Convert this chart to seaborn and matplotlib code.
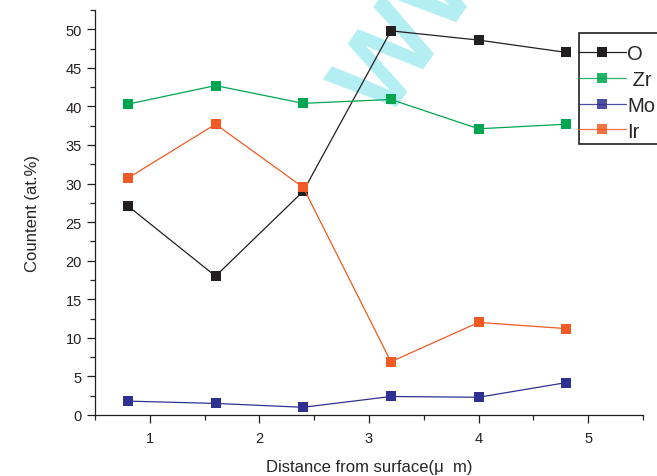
import numpy as np
import pandas as pd
import matplotlib
matplotlib.use('Agg')
import matplotlib.pyplot as plt
import seaborn as sns
from matplotlib.patches import Rectangle
from matplotlib.ticker import MultipleLocator

distance = [0.8, 1.6, 2.4, 3.2, 4.0, 4.8]
o_vals = [27.1, 18.0, 29.0, 49.8, 48.6, 47.0]
zr_vals = [40.3, 42.7, 40.4, 40.9, 37.1, 37.7]
mo_vals = [1.8, 1.5, 1.0, 2.4, 2.3, 4.2]
ir_vals = [30.7, 37.7, 29.5, 6.9, 12.0, 11.2]
elements = ['O', 'Zr', 'Mo', 'Ir']
legend_labels = ['O', ' Zr', 'Mo', 'Ir']
colors = ['#231f20', '#00a650', '#2e3192', '#f15a24']

df = pd.DataFrame({
    'x': distance * 4,
    'y': o_vals + zr_vals + mo_vals + ir_vals,
    'el': [e for e in elements for _ in distance],
})

sns.set_style('ticks')
plt.rcParams['font.family'] = ['Liberation Sans', 'DejaVu Sans']

W, H = 657, 477
fig = plt.figure(figsize=(W / 100, H / 100), dpi=100)
ax = fig.add_axes([95 / W, 1 - 416 / H, (643 - 95) / W, (416 - 11) / H])

# watermark, under the data lines
ax.text(386 / W, 1 - 123 / H, 'WWW', transform=fig.transFigure, color='#b3eef2',
        fontsize=80, fontweight='bold', rotation=55, rotation_mode='anchor',
        ha='left', va='baseline', zorder=0, clip_on=False)

sns.lineplot(data=df, x='x', y='y', hue='el', hue_order=elements,
             palette=colors, marker='s', markersize=7.5, markeredgewidth=0,
             linewidth=0.9, ax=ax, legend=False, zorder=3)

ax.set_xlim(0.5, 5.5)
ax.set_ylim(0, 52.5)
ax.xaxis.set_major_locator(MultipleLocator(1))
ax.xaxis.set_minor_locator(MultipleLocator(0.5))
ax.yaxis.set_major_locator(MultipleLocator(5))
ax.yaxis.set_minor_locator(MultipleLocator(2.5))
ax.tick_params(which='major', length=5.5, width=0.9, direction='out', labelsize=10.5,
               colors='#231f20', pad=4)
ax.tick_params(axis='x', which='major', pad=6)
ax.tick_params(which='minor', length=3.5, width=0.9, direction='out')
for s in ['top', 'right']:
    ax.spines[s].set_visible(False)
for s in ['left', 'bottom']:
    ax.spines[s].set_linewidth(0.9)
    ax.spines[s].set_color('#231f20')

ax.set_xlabel('Distance from surface(μ  m)', fontsize=12, labelpad=10)
ax.set_ylabel('Countent (at.%)', fontsize=12, labelpad=18)

# legend box runs past the right edge of the figure
fig.patches.append(Rectangle((579 / W, 1 - 145 / H), 120 / W, 111 / H,
                             transform=fig.transFigure, facecolor='white',
                             edgecolor='#231f20', linewidth=1.2, zorder=4))
handles = [plt.Line2D([], [], color=c, marker='s', markersize=7.5, markeredgewidth=0,
                      linewidth=0.9, alpha=0.85 if i else 1) for i, c in enumerate(colors)]
leg = fig.legend(handles, legend_labels, loc='upper left',
                 bbox_to_anchor=(578 / W, 1 - 45 / H), fontsize=14.5,
                 frameon=False, borderpad=0, labelspacing=0.34, handlelength=2.4,
                 handletextpad=0.05, borderaxespad=0, numpoints=1)
leg.set_zorder(5)

fig.savefig('out.png', dpi=100)
